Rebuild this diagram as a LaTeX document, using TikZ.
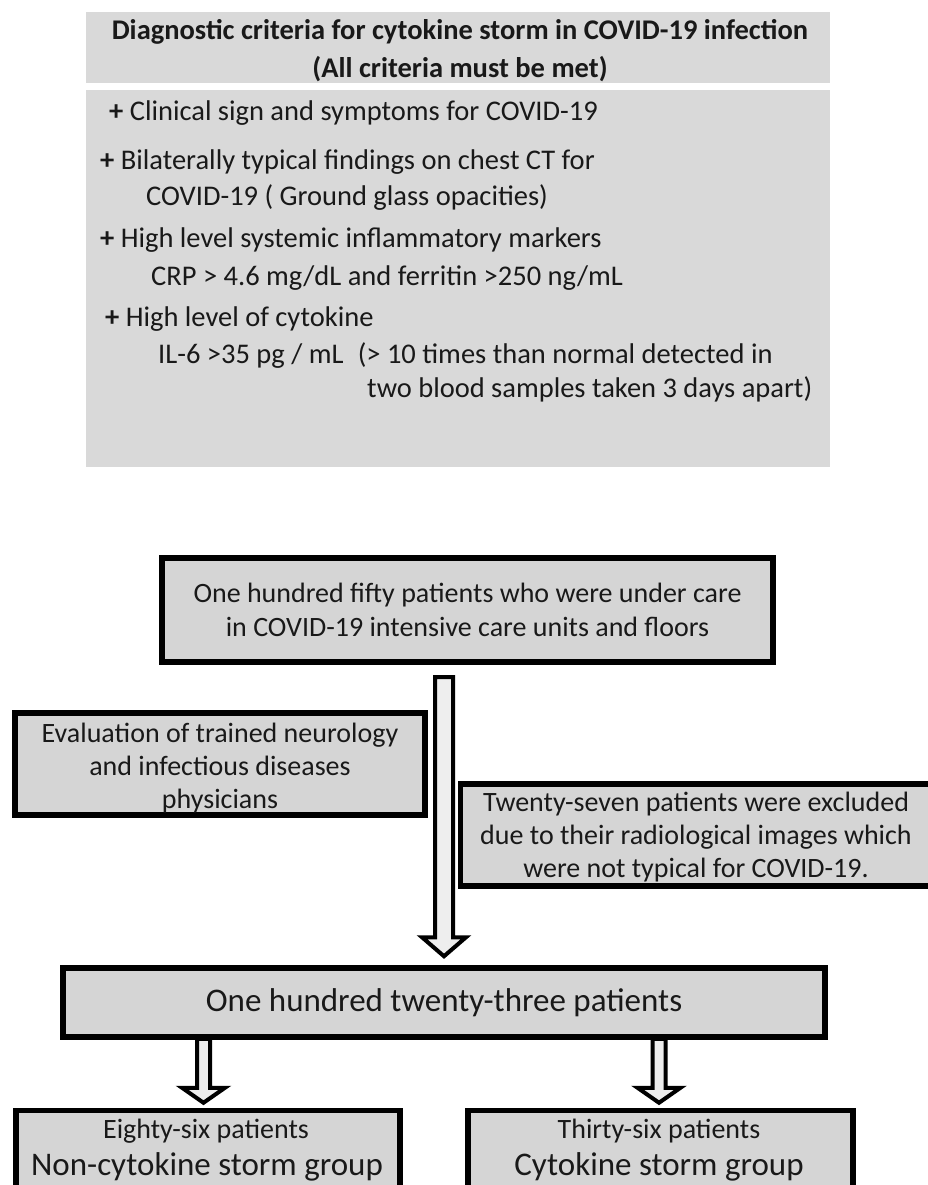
\documentclass[tikz,border=0pt]{standalone}
\usepackage{fontspec}
\setmainfont{Carlito}
\usetikzlibrary{calc}
\definecolor{panel}{RGB}{217,217,217}
\definecolor{boxfill}{RGB}{213,213,213}
\definecolor{arrowfill}{RGB}{238,238,238}
\definecolor{ink}{RGB}{25,25,25}
\tikzset{
  panelbox/.style={fill=panel, draw=none, inner sep=0pt},
  flowbox/.style={draw=black, line width=5.5pt, fill=boxfill, inner sep=0pt, align=center, text=ink},
  boxtext/.style={inner sep=0pt, align=center, text=ink},
  bodyline/.style={anchor=mid west, inner sep=0pt, text=ink, font=\fontsize{28.5}{32}\selectfont},
  harrow/.style={draw=black, line width=4pt, fill=arrowfill, line join=miter, miter limit=10}
}
\newcommand\hollowarrow[5]{%
  \draw[harrow] let \p1=(#1), \p2=(#2) in
  (\x1-#3pt,\y1) -- (\x1-#3pt,\y2+#5pt) -- (\x1-#4pt,\y2+#5pt) -- (\x1,\y2)
  -- (\x1+#4pt,\y2+#5pt) -- (\x1+#3pt,\y2+#5pt) -- (\x1+#3pt,\y1) -- cycle;}
\begin{document}
\begin{tikzpicture}[x=1pt,y=-1pt]
\useasboundingbox (0,0) rectangle (928,1185);
\fill[white] (0,0) rectangle (928,1185);
% ---------- criteria panel ----------
\node[panelbox, minimum width=744pt, minimum height=71pt] (head) at (458,47.5) {};
\node[panelbox, minimum width=744pt, minimum height=377pt] (body) at (458,278.5) {};
\node[boxtext, font=\fontsize{28.5}{38}\bfseries\selectfont] (title) at (460,51)
  {Diagnostic criteria for cytokine storm in COVID-19 infection\\(All criteria must be met)};
\node[bodyline] (l1) at (109,118) {\textbf{+} Clinical sign and symptoms for COVID-19};
\node[bodyline] (l2) at (100,167) {\textbf{+} Bilaterally typical findings on chest CT for};
\node[bodyline] (l3) at (146,203) {COVID-19 ( Ground glass opacities)};
\node[bodyline] (l4) at (100,245) {\textbf{+} High level systemic inflammatory markers};
\node[bodyline] (l5) at (151,283) {CRP > 4.6 mg/dL and ferritin >250 ng/mL};
\node[bodyline] (l6) at (105,324) {\textbf{+} High level of cytokine};
\node[bodyline] (l7) at (158,361) {IL-6 >35 pg / mL\enspace(> 10 times than normal detected in};
\node[bodyline] (l8) at (367,395) {two blood samples taken 3 days apart)};
% ---------- flow chart ----------
\node[flowbox, minimum width=611pt, minimum height=104pt, font=\fontsize{28}{34}\selectfont] (b1) at (467.5,610)
  {One hundred fifty patients who were under care\\in COVID-19 intensive care units and floors};
\node[flowbox, minimum width=410pt, minimum height=102pt] (ev) at (220,764) {};
\node[boxtext, font=\fontsize{28}{33}\selectfont] (evt) at (220,768.5)
  {Evaluation of trained neurology\\and infectious diseases\\physicians};
\node[flowbox, minimum width=475pt, minimum height=102pt] (ex) at (698,835) {};
\node[boxtext, font=\fontsize{28}{33}\selectfont] (ext) at (696,837.5)
  {Twenty-seven patients were excluded\\due to their radiological images which\\were not typical for COVID-19.};
\node[flowbox, minimum width=762pt, minimum height=69pt, font=\fontsize{33}{38}\selectfont] (b123) at (444,1002.5)
  {One hundred twenty-three patients};
\node[flowbox, minimum width=384pt, minimum height=110pt, anchor=north] (g1) at (208,1107.75) {};
\node[flowbox, minimum width=385pt, minimum height=110pt, anchor=north] (g2) at (660.5,1107.75) {};
\node[boxtext, font=\fontsize{28}{30}\selectfont] (g1a) at (206,1131) {Eighty-six patients};
\node[boxtext, font=\fontsize{33}{36}\selectfont] (g1b) at (207,1167) {Non-cytokine storm group};
\node[boxtext, font=\fontsize{28}{30}\selectfont] (g2a) at (659,1131) {Thirty-six patients};
\node[boxtext, font=\fontsize{33}{36}\selectfont] (g2b) at (659,1167) {Cytokine storm group};
% ---------- hollow arrows ----------
\coordinate (a1s) at (444,677);
\coordinate (a1e) at ($(b123.north -| a1s)+(0,-9)$);
\hollowarrow{a1s}{a1e}{9}{22}{19}
\coordinate (a2s) at ($(b123.south -| 203.5,0)+(0,-1)$);
\coordinate (a2e) at ($(g1.north -| a2s)+(0,-5)$);
\hollowarrow{a2s}{a2e}{6.5}{21.5}{15}
\coordinate (a3s) at ($(b123.south -| 659,0)+(0,-1)$);
\coordinate (a3e) at ($(g2.north -| a3s)+(0,-5)$);
\hollowarrow{a3s}{a3e}{6.5}{21.5}{15}
\end{tikzpicture}
\end{document}
